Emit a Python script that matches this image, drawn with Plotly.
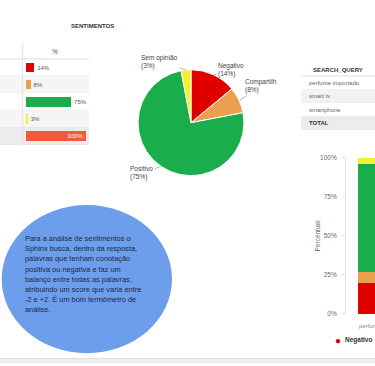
import math
import plotly.graph_objects as go

W, H = 375, 366
def px(x): return x / W
def py(y): return 1 - y / H

# ---------------- data ----------------
sentiments = ["Negativo", "Compartilhado", "Positivo", "Sem opinião"]
pie_labels = ["Negativo", "Compartilh", "Positivo", "Sem opinião"]
pct = [14, 8, 75, 3]
colors = ["#e00000", "#eaa04e", "#19ad4c", "#f5ef2d"]

table_rows = ["Negativo", "Compartilhado", "Positivo", "Sem opinião", "TOTAL"]
table_pct = [14, 8, 75, 3, 100]
table_colors = colors + ["#f25a3b"]

queries = ["perfume importado", "smart tv", "smartphone", "TOTAL"]
perfume_pct = [20, 7, 69, 4]
y_ticks = [0, 25, 50, 75, 100]

info_lines = ["Para a análise de sentimentos o", "Sphinx busca, dentro da resposta,",
              "palavras que tenham conotação", "positiva ou negativa e faz um",
              "balanço entre todas as palavras,", "atribuindo um score que varia entre",
              "-2 e +2. É um bom termômetro de", "análise."]

FONT = "Arial, Liberation Sans, sans-serif"
fig = go.Figure()

# left table bars
fig.add_trace(go.Bar(
    x=table_pct, y=table_rows, orientation="h", xaxis="x2", yaxis="y2",
    marker=dict(color=table_colors, line=dict(width=0)), width=0.55,
    text=[f"{v}%" for v in table_pct],
    textposition=["outside"] * 4 + ["inside"], insidetextanchor="end",
    outsidetextfont=dict(size=6, color="#555", family=FONT),
    insidetextfont=dict(size=6, color="white", family=FONT),
    constraintext="none", cliponaxis=False, showlegend=False, hoverinfo="skip"))

# pie
fig.add_trace(go.Pie(
    values=pct, labels=sentiments, sort=False, direction="clockwise", rotation=0,
    marker=dict(colors=colors, line=dict(color="white", width=1)),
    textinfo="none", showlegend=False,
    domain=dict(x=[px(137), px(245)], y=[py(175), py(67)])))

# stacked bar
for name, val, col in zip(sentiments, perfume_pct, colors):
    fig.add_trace(go.Bar(x=["perfume importado"], y=[val], name=name,
                         marker=dict(color=col, line=dict(width=0)), width=0.8,
                         xaxis="x3", yaxis="y3", showlegend=False))

shapes = []
row_fill = ["white", "#f5f5f5", "white", "#f5f5f5", "#ececec"]
for i, c in enumerate(row_fill):
    shapes.append(dict(type="rect", xref="paper", yref="y2", x0=0, x1=px(89),
                       y0=i - 0.5, y1=i + 0.5, fillcolor=c, line=dict(width=0), layer="below"))
    shapes.append(dict(type="line", xref="paper", yref="y2", x0=0, x1=px(89),
                       y0=i + 0.5, y1=i + 0.5, line=dict(color="#e8e8e8", width=1), layer="below"))
shapes.append(dict(type="line", xref="paper", yref="paper", x0=0, x1=px(89),
                   y0=py(56), y1=py(56), line=dict(color="#dcdcdc", width=1), layer="below"))
shapes.append(dict(type="line", xref="paper", yref="paper", x0=px(22.7), x1=px(22.7),
                   y0=py(40), y1=py(145), line=dict(color="#e3e3e3", width=1), layer="below"))

# search query table (rows as shapes + text)
sq_top, sq_row = 74, 13.5
sq_fill = ["white", "#f2f2f2", "white", "#ececec"]
shapes.append(dict(type="line", xref="paper", yref="paper", x0=px(301), x1=1,
                   y0=py(73.5), y1=py(73.5), line=dict(color="#d0d0d0", width=1), layer="below"))
for i, c in enumerate(sq_fill):
    y0 = sq_top + i * sq_row
    shapes.append(dict(type="rect", xref="paper", yref="paper", x0=px(301), x1=1,
                       y0=py(y0 + sq_row), y1=py(y0), fillcolor=c, line=dict(width=0), layer="below"))
    shapes.append(dict(type="line", xref="paper", yref="paper", x0=px(301), x1=1,
                       y0=py(y0 + sq_row), y1=py(y0 + sq_row), line=dict(color="#ebebeb", width=1),
                       layer="below"))

# ellipse
shapes.append(dict(type="circle", xref="paper", yref="paper", x0=px(1.7), x1=px(172),
                   y0=py(356), y1=py(205), fillcolor="#6d9eeb", line=dict(width=0), layer="below"))
# bottom band
shapes.append(dict(type="rect", xref="paper", yref="paper", x0=0, x1=1, y0=0, y1=py(362),
                   fillcolor="#eeeeee", line=dict(width=0), layer="below"))
shapes.append(dict(type="line", xref="paper", yref="paper", x0=0, x1=1, y0=py(361.5), y1=py(361.5),
                   line=dict(color="#e0e0e0", width=1), layer="below"))

def label(text, x, y, size, color, xanchor="center", **kw):
    return dict(text=text, x=px(x), y=py(y), xref="paper", yref="paper",
                xanchor=xanchor, yanchor="middle", showarrow=False,
                font=dict(size=size, color=color, family=FONT), **kw)

ann = []
ann.append(label("<b>SENTIMENTOS</b>", 92.5, 22, 6, "#333"))
ann.append(label("%", 55, 48, 6.5, "#555"))

ann.append(label("<b>SEARCH_QUERY</b>", 338, 67.5, 6, "#333"))
for i, q in enumerate(queries):
    txt = f"<b>{q}</b>" if q == "TOTAL" else q
    ann.append(label(txt, 307, sq_top + (i + 0.5) * sq_row, 6,
                     "#333" if q == "TOTAL" else "#666", xanchor="left"))

# pie labels with leader lines, anchored on the slice mid-angle
cx, cy, r = 191, 121, 54
offsets = {"Negativo": (17, -5), "Compartilh": (21, -14), "Positivo": (-19, 7), "Sem opinião": (-26, -8)}
cum = 0
total = sum(pct)
for lab, v in zip(pie_labels, pct):
    mid = (cum + v / 2) / total * 2 * math.pi
    cum += v
    x0 = cx + r * math.sin(mid)
    y0 = cy - r * math.cos(mid)
    ax, ay = offsets[lab]
    ann.append(dict(text=f"{lab}<br>({v}%)", x=px(x0), y=py(y0), xref="paper", yref="paper",
                    ax=ax, ay=ay, showarrow=True, arrowhead=0, arrowwidth=0.7, arrowcolor="#999",
                    standoff=0, align="left",
                    font=dict(size=6.5, color="#444", family=FONT)))

for i, line in enumerate(info_lines):
    ann.append(label(line, 23, 239 + 10.4 * i, 7.4, "#1c2845", xanchor="left"))

ann.append(label("Percentual", 317, 236, 6.5, "#666", textangle=-90))
ann.append(label("perfume importado", 357, 328, 6, "#888", xanchor="left"))
ann.append(label("●", 338, 343, 10, "#d40000"))
ann.append(label("<b>Negativo</b>", 343, 343, 6.5, "#333", xanchor="left"))

fig.update_layout(
    width=W, height=H, margin=dict(l=0, r=0, t=0, b=0),
    paper_bgcolor="white", plot_bgcolor="rgba(0,0,0,0)",
    barmode="stack", showlegend=False, font=dict(family=FONT),
    shapes=shapes, annotations=ann,
    xaxis=dict(visible=False), yaxis=dict(visible=False),
    xaxis2=dict(domain=[px(25.7), px(86.2)], range=[0, 100], visible=False, anchor="y2"),
    yaxis2=dict(domain=[py(144), py(56)], autorange="reversed", visible=False, anchor="x2"),
    xaxis3=dict(domain=[px(346), 1], range=[-0.6, -0.6 + 29 / 60], showticklabels=False,
                showgrid=False, zeroline=False, showline=False, anchor="y3"),
    yaxis3=dict(domain=[py(316), py(157)], range=[0, 100], tickvals=y_ticks,
                ticktext=[f"{t}%" for t in y_ticks], ticklabelstandoff=4,
                ticks="outside", ticklen=3, tickcolor="#ddd", showline=True, linecolor="#e6e6e6",
                showgrid=False, zeroline=False, anchor="x3",
                tickfont=dict(size=6.5, color="#666", family=FONT)),
)

fig.write_html("out.html")
